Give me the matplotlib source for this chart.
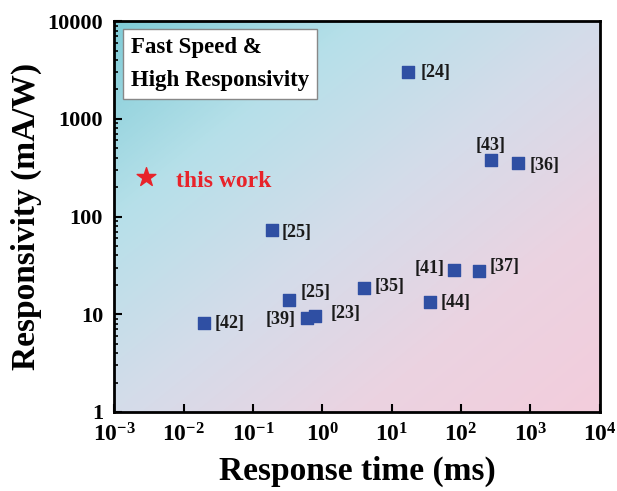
import numpy as np
import matplotlib.pyplot as plt
from matplotlib.colors import LinearSegmentedColormap

# reference points
refs = ['[24]', '[43]', '[36]', '[25]', '[41]', '[37]', '[35]', '[44]', '[25]', '[39]', '[23]', '[42]']
resp_time = [17.5, 270, 660, 0.186, 80, 180, 4.0, 36, 0.33, 0.61, 0.78, 0.02]
responsivity = [3000, 375, 355, 73, 28.5, 27.5, 18.5, 13.3, 14, 9.2, 9.6, 8.1]
# label offset in pixels (dx, dy) and alignment
label_dx = [12, 0, 12, 10, -10, 11, 11, 10, 12, -12, 16, 10]
label_dy = [0, 15, -3, -3, 1, 5, 2, 0, 7, -2, 2, 0]
label_ha = ['left', 'center', 'left', 'left', 'right', 'left', 'left', 'left', 'left', 'right', 'left', 'left']

this_work_time = [0.0029]
this_work_resp = [252]

plt.rcParams['font.family'] = ['Liberation Serif', 'DejaVu Serif']
plt.rcParams['font.weight'] = 'bold'
plt.rcParams['mathtext.fontset'] = 'custom'
plt.rcParams['mathtext.rm'] = 'Liberation Serif:bold'
plt.rcParams['mathtext.it'] = 'Liberation Serif:bold'
plt.rcParams['mathtext.bf'] = 'Liberation Serif:bold'

fig = plt.figure(figsize=(6.17, 4.91), dpi=100)
ax = fig.add_axes([0.185, 0.161, 0.787, 0.796])

# diagonal background gradient: teal top-left -> pink bottom-right
cmap = LinearSegmentedColormap.from_list('bg', ['#80ccd7', '#b6e0e9', '#d4dcea', '#ebd3e1', '#f3cddc'])
gx, gy = np.meshgrid(np.linspace(0, 1, 300), np.linspace(0, 1, 300))
grad = (gx + gy) / 2
ax.imshow(grad, cmap=cmap, extent=[0, 1, 0, 1], transform=ax.transAxes,
          aspect='auto', origin='upper', zorder=0)

ax.set_xscale('log')
ax.set_yscale('log')
ax.set_xlim(1e-3, 1e4)
ax.set_ylim(1, 1e4)

ax.scatter(resp_time, responsivity, marker='s', s=85, color='#2f4fa3', zorder=3)
ax.scatter(this_work_time, this_work_resp, marker='*', s=200, color='#e8232a', zorder=3)

for i in range(len(refs)):
    ax.annotate(refs[i], (resp_time[i], responsivity[i]), xytext=(label_dx[i], label_dy[i]),
                textcoords='offset pixels', ha=label_ha[i], va='center',
                fontsize=13, fontweight='bold', color='#1a1a1a', zorder=4)

ax.annotate('this work', (this_work_time[0], this_work_resp[0]), xytext=(30, -4),
            textcoords='offset pixels', ha='left', va='center',
            fontsize=17, fontweight='bold', color='#e8232a', zorder=4)

ax.text(0.035, 0.96, 'Fast Speed &\nHigh Responsivity', transform=ax.transAxes,
        ha='left', va='top', fontsize=16.5, fontweight='bold', linespacing=1.75,
        bbox=dict(boxstyle='square,pad=0.35', facecolor='white', edgecolor='#888888', linewidth=1),
        zorder=5)

ax.set_yticks([1, 10, 100, 1000, 10000])
ax.set_yticklabels(['1', '10', '100', '1000', '10000'])
ax.set_xticks([1e-3, 1e-2, 1e-1, 1e0, 1e1, 1e2, 1e3, 1e4])
ax.tick_params(which='both', direction='in', top=False, right=False)
ax.tick_params(axis='x', which='major', pad=8, labelsize=17)
ax.tick_params(axis='y', which='major', pad=8, labelsize=16)
ax.tick_params(which='major', length=6, width=1.5)
ax.tick_params(which='minor', length=3, width=1.2)
for sp in ax.spines.values():
    sp.set_linewidth(2)

ax.set_xlabel('Response time (ms)', fontsize=24, fontweight='bold', labelpad=7)
ax.set_ylabel('Responsivity (mA/W)', fontsize=24, fontweight='bold', labelpad=4)

fig.savefig('out.png', dpi=100)
